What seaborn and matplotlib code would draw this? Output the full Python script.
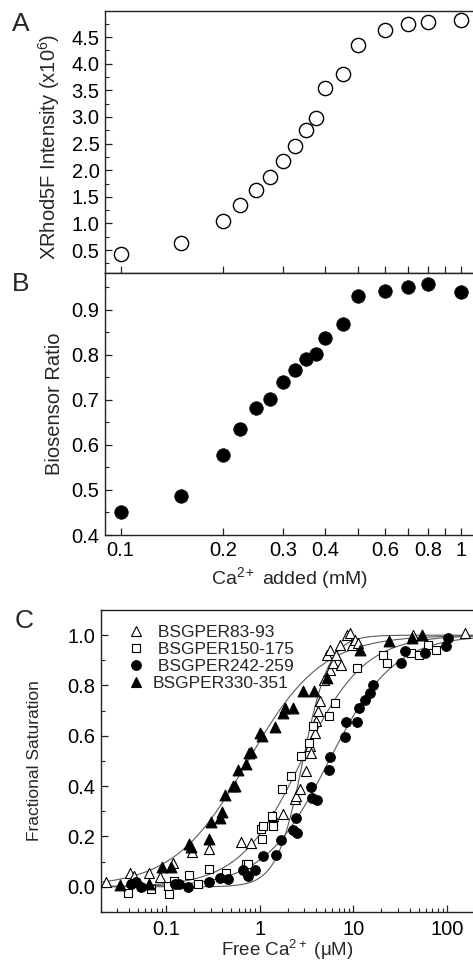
import numpy as np
import matplotlib
matplotlib.use('Agg')
import matplotlib.pyplot as plt
import seaborn as sns
from matplotlib.ticker import FixedLocator, FixedFormatter, LogLocator, NullFormatter, MultipleLocator
from matplotlib.lines import Line2D

# Panels A and B: Ca2+ added (mM)
ca_added = [0.1, 0.15, 0.2, 0.225, 0.25, 0.275, 0.3, 0.325, 0.35, 0.375, 0.4, 0.45, 0.5, 0.6, 0.7, 0.8, 1.0]
xrhod_intensity = [0.42, 0.64, 1.05, 1.34, 1.62, 1.87, 2.18, 2.46, 2.75, 2.98, 3.55, 3.80, 4.35, 4.63, 4.74, 4.78, 4.83]
biosensor_ratio = [0.450, 0.487, 0.577, 0.636, 0.682, 0.702, 0.740, 0.767, 0.790, 0.803, 0.837, 0.868,
                   0.932, 0.943, 0.950, 0.957, 0.939]
ab_xticks = [0.1, 0.2, 0.3, 0.4, 0.5, 0.6, 0.7, 0.8, 0.9, 1.0]
ab_xticklabels = ['0.1', '0.2', '0.3', '0.4', '', '0.6', '', '0.8', '', '1']

# Panel C: free Ca2+ (uM) vs fractional saturation
per83_x = [0.023, 0.041, 0.046, 0.066, 0.087, 0.118, 0.19, 0.29, 0.64, 0.81, 1.39, 1.78, 2.4, 2.46, 2.68,
           3.13, 3.45, 3.58, 3.9, 4.0, 4.2, 4.4, 4.9, 5.2, 5.6, 5.6, 6.1, 6.6, 7.2, 7.5, 8.5, 9.3, 9.6,
           10.4, 11.3, 44, 155]
per83_y = [0.02, 0.054, 0.045, 0.054, 0.04, 0.096, 0.14, 0.15, 0.18, 0.175, 0.28, 0.29, 0.35, 0.36, 0.39,
           0.46, 0.56, 0.53, 0.61, 0.66, 0.70, 0.74, 0.82, 0.92, 0.86, 0.94, 0.89, 0.92, 0.96, 0.88, 1.0, 1.01, 0.96,
           0.98, 0.97, 1.0, 1.01]

per150_x = [0.039, 0.069, 0.104, 0.108, 0.123, 0.175, 0.218, 0.29, 0.44, 0.72, 0.75, 1.04, 1.06, 1.1, 1.37, 1.39,
            1.75, 2.15, 2.77, 3.4, 3.7, 5.5, 6.4, 10.9, 20.9, 22.7, 41.8, 51, 63, 77]
per150_y = [-0.024, -0.01, 0.003, -0.03, 0.023, 0.048, 0.012, 0.07, 0.056, 0.09, 0.09, 0.23, 0.19, 0.24, 0.28, 0.24,
            0.39, 0.44, 0.52, 0.57, 0.64, 0.68, 0.73, 0.87, 0.92, 0.89, 0.93, 0.92, 0.96, 0.94]

per242_x = [0.042, 0.048, 0.054, 0.126, 0.139, 0.17, 0.29, 0.38, 0.46, 0.66, 0.75, 0.90, 1.09, 1.5, 1.71, 2.25,
            2.42, 2.5, 3.55, 3.64, 4.1, 5.5, 5.6, 8.1, 8.4, 11.0, 11.5, 13.5, 15.0, 16.2, 32.6, 36, 58, 97, 103]
per242_y = [0.01, 0.02, 0.0, 0.012, 0.012, 0.0, 0.02, 0.036, 0.03, 0.068, 0.045, 0.065, 0.123, 0.125, 0.188, 0.225,
            0.273, 0.212, 0.395, 0.353, 0.345, 0.466, 0.515, 0.596, 0.656, 0.656, 0.71, 0.743, 0.77, 0.80, 0.89,
            0.936, 0.93, 0.956, 0.99]

per330_x = [0.032, 0.066, 0.09, 0.113, 0.178, 0.185, 0.286, 0.30, 0.38, 0.40, 0.43, 0.52, 0.55, 0.59, 0.72, 0.78,
            0.81, 1.0, 1.05, 1.45, 1.78, 1.85, 2.28, 2.9, 3.8, 5.2, 11.7, 24.3, 42.3, 54]
per330_y = [0.007, 0.012, 0.079, 0.079, 0.17, 0.16, 0.19, 0.256, 0.273, 0.296, 0.364, 0.40, 0.40, 0.463, 0.49, 0.53,
            0.536, 0.61, 0.60, 0.636, 0.69, 0.71, 0.71, 0.78, 0.78, 0.83, 0.94, 0.976, 0.99, 1.0]

# Hill fit parameters (Kd in uM, Hill coefficient)
fit_kd = [2.9, 2.8, 5.5, 0.75]
fit_n = [3.1, 1.3, 1.25, 1.1]

labels = [' BSGPER83-93', ' BSGPER150-175', ' BSGPER242-259', 'BSGPER330-351']
c_xticks = [0.1, 1, 10, 100]
c_xticklabels = ['0.1', '1', '10', '100']

sns.set_theme(style='ticks')
plt.rcParams['font.family'] = ['Liberation Sans', 'DejaVu Sans']
plt.rcParams['mathtext.fontset'] = 'custom'
plt.rcParams['mathtext.rm'] = 'Liberation Sans'
plt.rcParams['mathtext.it'] = 'Liberation Sans:italic'
plt.rcParams['axes.edgecolor'] = '#222222'
plt.rcParams['axes.linewidth'] = 1.0

fig = plt.figure(figsize=(4.73, 9.63), dpi=100)
W, H = 473.0, 963.0


def px_axes(left, top, right, bottom):
    return fig.add_axes([left / W, 1 - bottom / H, (right - left) / W, (bottom - top) / H])


ax_a = px_axes(105, 11, 475, 273)
ax_b = px_axes(105, 273, 475, 535)
ax_c = px_axes(100.5, 610, 475, 912)

tick_fs = 14.5

# ---- Panel A
sns.scatterplot(x=ca_added, y=xrhod_intensity, ax=ax_a, s=105, marker='o',
                facecolor='white', edgecolor='black', linewidth=1.0, zorder=3)
ax_a.set_xscale('log')
ax_a.set_xlim(0.09, 1.1)
ax_a.set_ylim(0.07, 4.99)
ax_a.yaxis.set_major_locator(MultipleLocator(0.5))
ax_a.yaxis.set_minor_locator(MultipleLocator(0.25))
ax_a.set_ylabel(r'XRhod5F Intensity (x10$^{6}$)', fontsize=14.5)
ax_a.yaxis.set_label_coords(-0.115, 0.48)

# ---- Panel B
sns.scatterplot(x=ca_added, y=biosensor_ratio, ax=ax_b, s=95, marker='o',
                color='black', edgecolor='black', linewidth=0.5, zorder=3)
ax_b.set_xscale('log')
ax_b.set_xlim(0.09, 1.1)
ax_b.set_ylim(0.4, 0.982)
ax_b.yaxis.set_major_locator(MultipleLocator(0.1))
ax_b.yaxis.set_minor_locator(MultipleLocator(0.05))
ax_b.set_ylabel('Biosensor Ratio', fontsize=14.5)
ax_b.yaxis.set_label_coords(-0.11, 0.5)
ax_b.set_xlabel(r'Ca$^{2+}$ added (mM)', fontsize=14)

for ax in (ax_a, ax_b):
    ax.xaxis.set_major_locator(FixedLocator(ab_xticks))
    ax.xaxis.set_major_formatter(FixedFormatter(ab_xticklabels))
    ax.xaxis.set_minor_locator(FixedLocator([]))
    ax.xaxis.set_minor_formatter(NullFormatter())
ax_a.tick_params(axis='x', labelbottom=False)

# ---- Panel C
xfit = np.logspace(np.log10(0.02), np.log10(200), 400)
for kd, n in zip(fit_kd, fit_n):
    yfit = xfit ** n / (kd ** n + xfit ** n)
    sns.lineplot(x=xfit, y=yfit, ax=ax_c, color='#5a5a5a', linewidth=0.8, estimator=None, sort=False, zorder=2)

series = [(per83_x, per83_y, '^', 'white', 52),
          (per150_x, per150_y, 's', 'white', 40),
          (per242_x, per242_y, 'o', 'black', 48),
          (per330_x, per330_y, '^', 'black', 60)]
handles = []
for (xs, ys, mk, fc, sz), lab in zip(series, labels):
    sns.scatterplot(x=xs, y=ys, ax=ax_c, marker=mk, s=sz, facecolor=fc, edgecolor='black',
                    linewidth=0.8, zorder=3)
    handles.append(Line2D([], [], linestyle='none', marker=mk, markersize=np.sqrt(sz),
                          markerfacecolor=fc, markeredgecolor='black', markeredgewidth=0.8, label=lab))

ax_c.set_xscale('log')
ax_c.set_xlim(0.02, 200)
ax_c.set_ylim(-0.1, 1.1)
ax_c.yaxis.set_major_locator(MultipleLocator(0.2))
ax_c.yaxis.set_minor_locator(MultipleLocator(0.1))
ax_c.xaxis.set_major_locator(FixedLocator(c_xticks))
ax_c.xaxis.set_major_formatter(FixedFormatter(c_xticklabels))
ax_c.xaxis.set_minor_locator(LogLocator(base=10, subs=np.arange(2, 10)))
ax_c.xaxis.set_minor_formatter(NullFormatter())
ax_c.set_ylabel('Fractional Saturation', fontsize=12.5)
ax_c.yaxis.set_label_coords(-0.155, 0.5)
ax_c.set_xlabel(r'Free Ca$^{2+}$ (μM)', fontsize=13.5)
ax_c.xaxis.set_label_coords(0.5, -0.085)
ax_c.legend(handles=handles, loc='upper left', bbox_to_anchor=(0.052, 0.975), frameon=False,
            fontsize=12.5, handlelength=1.0, handletextpad=0.5, labelspacing=0.12, borderaxespad=0)

for ax in (ax_a, ax_b, ax_c):
    ax.tick_params(which='both', direction='in', colors='#222222', labelcolor='black',
                   labelsize=tick_fs, pad=4)
    ax.tick_params(which='major', length=5, width=0.9)
    ax.tick_params(which='minor', length=3, width=0.8)
    ax.tick_params(axis='y', which='both', right=False)
    ax.tick_params(axis='x', which='both', top=False)
    ax.set_facecolor('white')
ax_c.tick_params(axis='x', which='both', pad=6)

fig.text(12 / W, 1 - 24 / H, 'A', fontsize=19, va='center', ha='left')
fig.text(12 / W, 1 - 284 / H, 'B', fontsize=19, va='center', ha='left')
fig.text(15 / W, 1 - 621 / H, 'C', fontsize=19, va='center', ha='left')

fig.savefig('out.png', dpi=100, facecolor='white')
